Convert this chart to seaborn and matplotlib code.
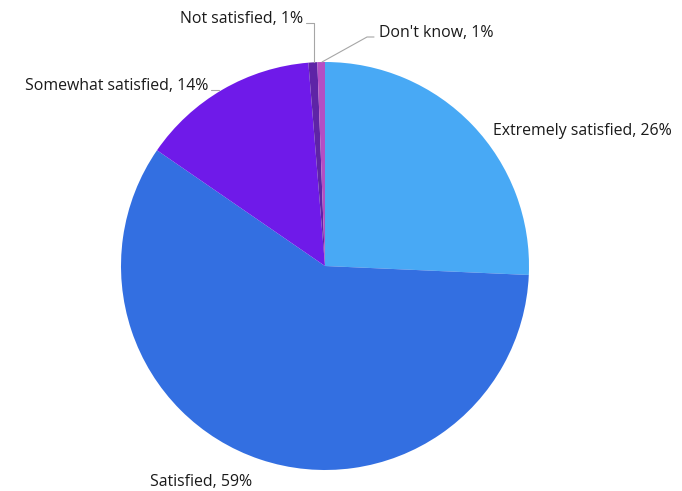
import matplotlib
matplotlib.use("Agg")
import matplotlib.pyplot as plt
import seaborn as sns

categories = ["Extremely satisfied", "Satisfied", "Somewhat satisfied", "Not satisfied", "Don't know"]
values = [25.7, 58.9, 14.1, 0.7, 0.6]
pct_labels = ["26%", "59%", "14%", "1%", "1%"]
colors = ["#48A9F5", "#336FE1", "#6F1AE9", "#5E24A6", "#B44EC4"]

sns.set_theme(style="white")
plt.rcParams['font.family'] = ['Open Sans', 'DejaVu Sans']

W, H = 682, 491
fig = plt.figure(figsize=(W / 100, H / 100), dpi=100)
ax = fig.add_axes([0, 0, 1, 1])

cx, cy, r = 325, H - 266, 204
ax.pie(values, colors=colors, startangle=90, counterclock=False,
       center=(cx, cy), radius=r, frame=True,
       wedgeprops=dict(linewidth=0))
ax.set_xlim(0, W)
ax.set_ylim(0, H)
ax.set_aspect('equal')
ax.axis('off')

fs = 11.4
tc = "#1a1a1a"
lc = "#A6A6A6"
# label anchor (pixel coords: x, y, ha)
pos = [(493, 131, 'left'), (150, 482, 'left'), (208, 86, 'right'), (303, 19, 'right'), (379, 33, 'left')]
for cat, p, (x, y, ha) in zip(categories, pct_labels, pos):
    ax.text(x, H - y, f"{cat}, {p}", ha=ha, va='center', fontsize=fs, color=tc)

# leader lines
ax.plot([211, 219], [H - 90, H - 90], color=lc, lw=0.8)
ax.plot([306, 314, 314], [H - 23, H - 23, H - 62], color=lc, lw=0.8)
ax.plot([374, 367, 322], [H - 37, H - 37, H - 62], color=lc, lw=0.8)

fig.savefig("out.png", dpi=100, facecolor="white")
